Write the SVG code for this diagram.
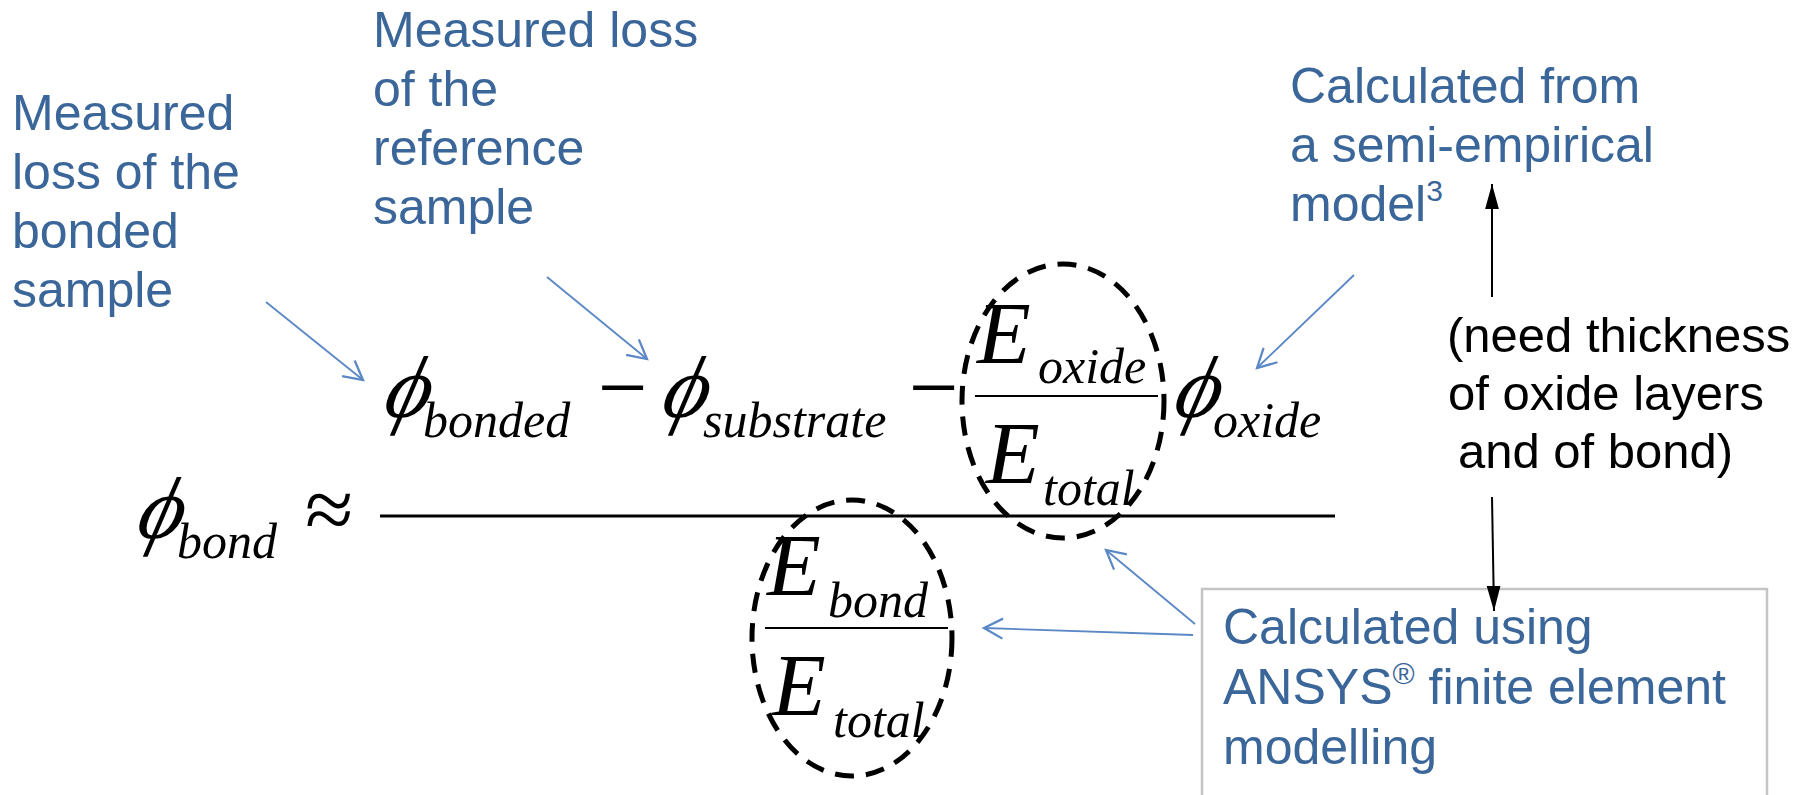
<svg xmlns="http://www.w3.org/2000/svg" width="1812" height="795" viewBox="0 0 1812 795">
<defs>
<style>
.lbl{font-family:"Liberation Sans",Arial,sans-serif;font-size:50px;fill:#3A6699}
.blk{font-family:"Liberation Sans",Arial,sans-serif;font-size:49px;fill:#000}
.m{font-family:"Liberation Serif","Times New Roman",serif;font-style:italic;font-size:88px;fill:#000}
.s{font-family:"Liberation Serif","Times New Roman",serif;font-style:italic;font-size:50px;fill:#000}
.op{font-family:"Liberation Serif","Times New Roman",serif;font-size:88px;fill:#000}
.sup{font-size:30px}
.ell{fill:none;stroke:#000;stroke-width:5;stroke-dasharray:19 12}
.bl{stroke:#5A87C5;stroke-width:1.8;fill:none}
.bk{stroke:#000;stroke-width:2;fill:none}
</style>
<marker id="ob" markerUnits="userSpaceOnUse" markerWidth="30" markerHeight="30" refX="0" refY="0" viewBox="-20 -12 24 24" orient="auto">
<path d="M-15,-8 L0,0 L-15,8" fill="none" stroke="#5A87C5" stroke-width="1.8"/>
</marker>
<marker id="fb" markerUnits="userSpaceOnUse" markerWidth="30" markerHeight="30" refX="0" refY="0" viewBox="-22 -12 24 24" orient="auto">
<path d="M-20,-5.5 L0,0 L-20,5.5 Z" fill="#000"/>
</marker>
</defs>
<rect width="1812" height="795" fill="#fff"/>

<g id="label-bonded">
<text class="lbl" x="12" y="130">Measured</text>
<text class="lbl" x="12" y="189">loss of the</text>
<text class="lbl" x="12" y="248">bonded</text>
<text class="lbl" x="12" y="307">sample</text>
</g>
<g id="label-reference">
<text class="lbl" x="373" y="47">Measured loss</text>
<text class="lbl" x="373" y="106">of the</text>
<text class="lbl" x="373" y="165">reference</text>
<text class="lbl" x="373" y="224">sample</text>
</g>
<g id="label-semiempirical">
<text class="lbl" x="1290" y="103">Calculated from</text>
<text class="lbl" x="1290" y="162">a semi-empirical</text>
<text class="lbl" x="1290" y="221">model<tspan class="sup" dy="-20">3</tspan></text>
</g>
<g id="label-thickness">
<text class="blk" x="1447" y="352">(need thickness</text>
<text class="blk" x="1448" y="410">of oxide layers</text>
<text class="blk" x="1458" y="468">and of bond)</text>
</g>
<g id="label-ansys">
<rect x="1202" y="589" width="565" height="220" fill="#fff" stroke="#c4c4c4" stroke-width="2.5"/>
<text class="lbl" x="1223" y="644">Calculated using</text>
<text class="lbl" x="1223" y="704">ANSYS<tspan class="sup" dy="-20">®</tspan><tspan dy="20"> finite element</tspan></text>
<text class="lbl" x="1223" y="764">modelling</text>
</g>

<g id="equation">
<text class="m" transform="translate(134,538) skewX(-14)">ϕ</text>
<text class="s" x="177" y="558">bond</text>
<text class="op" x="305" y="539">≈</text>
<line x1="380" y1="516" x2="1335" y2="516" stroke="#000" stroke-width="3"/>
<text class="m" transform="translate(381,417) skewX(-14)">ϕ</text>
<text class="s" x="423" y="437">bonded</text>
<text class="op" x="598" y="417">−</text>
<text class="m" transform="translate(659,417) skewX(-14)">ϕ</text>
<text class="s" x="703" y="437">substrate</text>
<text class="op" x="909" y="417">−</text>
<text class="m" x="977" y="363">E</text>
<text class="s" x="1038" y="383">oxide</text>
<line x1="975" y1="396" x2="1158" y2="396" stroke="#000" stroke-width="2"/>
<text class="m" x="986" y="483">E</text>
<text class="s" x="1043" y="505">total</text>
<text class="m" transform="translate(1171,417) skewX(-14)">ϕ</text>
<text class="s" x="1213" y="437">oxide</text>
<text class="m" x="767" y="595">E</text>
<text class="s" x="828" y="617">bond</text>
<line x1="765" y1="628" x2="948" y2="628" stroke="#000" stroke-width="2"/>
<text class="m" x="772" y="715">E</text>
<text class="s" x="833" y="737">total</text>
</g>

<g id="highlights">
<ellipse class="ell" cx="1063" cy="401" rx="101" ry="137"/>
<ellipse class="ell" cx="852" cy="638" rx="100" ry="138"/>
</g>

<g id="connectors">
<line class="bl" x1="266" y1="302" x2="363" y2="380" marker-end="url(#ob)"/>
<line class="bl" x1="547" y1="277" x2="647" y2="359" marker-end="url(#ob)"/>
<line class="bl" x1="1354" y1="275" x2="1257" y2="368" marker-end="url(#ob)"/>
<line class="bl" x1="1195" y1="624" x2="1106" y2="550" marker-end="url(#ob)"/>
<line class="bl" x1="1193" y1="635" x2="984" y2="628" marker-end="url(#ob)"/>
<line class="bk" x1="1492" y1="297" x2="1492" y2="184" marker-end="url(#fb)"/>
<line class="bk" x1="1492" y1="497" x2="1494" y2="611" marker-end="url(#fb)"/>
</g>
</svg>
